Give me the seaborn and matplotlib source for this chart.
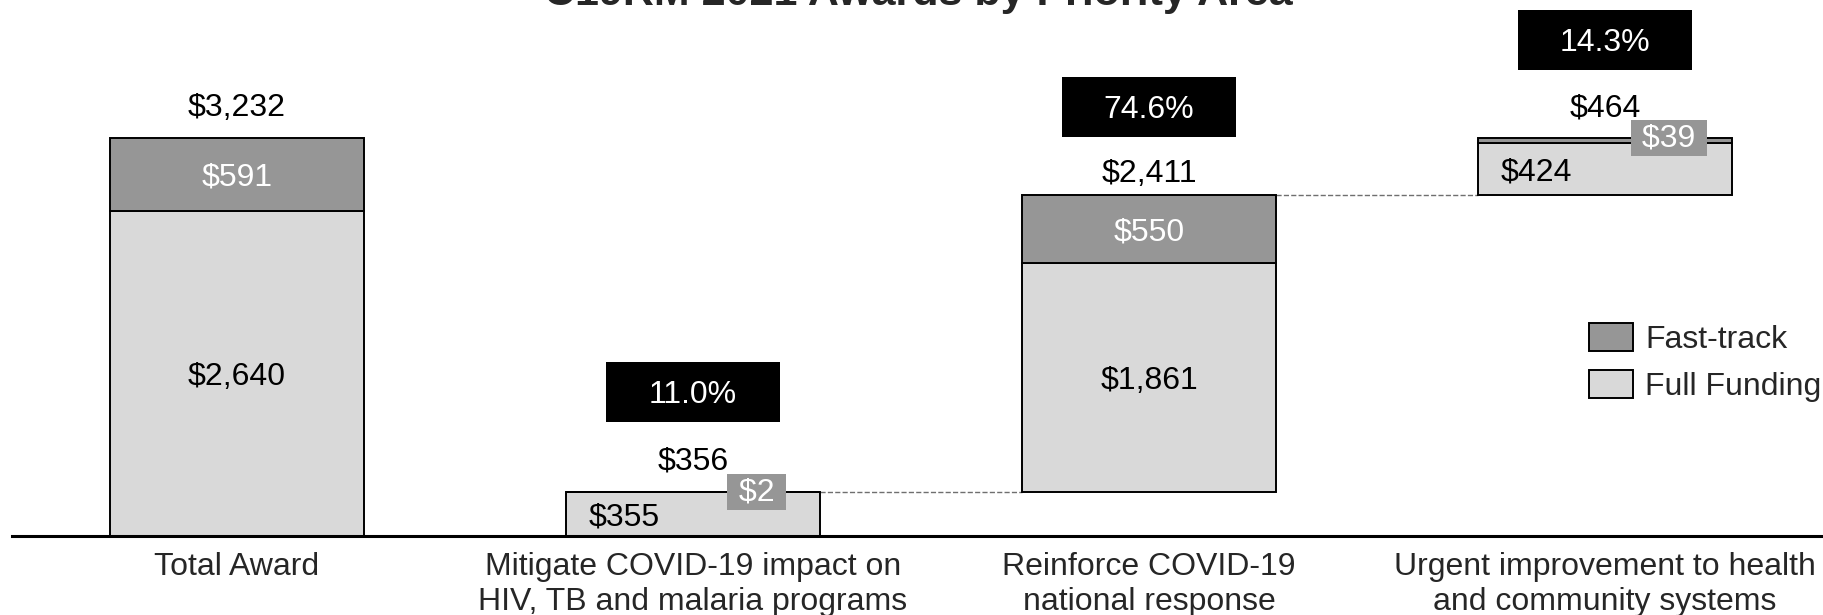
import numpy as np
import pandas as pd
import matplotlib
matplotlib.use("Agg")
import matplotlib.pyplot as plt
import seaborn as sns
from matplotlib.patches import Patch

# ---- data ----
categories = ["Total Award",
              "Mitigate COVID-19 impact on\nHIV, TB and malaria programs",
              "Reinforce COVID-19\nnational response",
              "Urgent improvement to health\nand community systems"]
full_funding = [2640, 355, 1861, 424]
fast_track = [591, 2, 550, 39]
total_labels = ["$3,232", "$356", "$2,411", "$464"]
full_labels = ["$2,640", "$355", "$1,861", "$424"]
fast_labels = ["$591", "$2", "$550", "$39"]
share_labels = [None, "11.0%", "74.6%", "14.3%"]
title = "C19RM 2021 Awards by Priority Area"

# ---- style ----
sns.set_theme(style="white")
plt.rcParams["font.family"] = ["Liberation Sans", "DejaVu Sans"]
FS = 23
CAP = 0.358 * FS  # half cap height in points, to centre digits visually
C_FAST = "#969696"
C_FULL = "#d9d9d9"
W = 0.557
PX = 0.12318  # pixels per data unit (for offsets)

fig = plt.figure(figsize=(18.24, 6.15), dpi=100)
ax = fig.add_axes([12 / 1824, 79 / 615, 1812 / 1824, 536 / 615])

full = np.array(full_funding, float)
fast = np.array(fast_track, float)
tot = full + fast
# waterfall bottoms: total starts at 0, components stack cumulatively
bottoms = np.zeros(4)
bottoms[2:] = np.cumsum(tot[1:3])
x = np.arange(4)

df = pd.DataFrame({"cat": categories, "full": full, "fast": fast, "bottom": bottoms})
sns.barplot(data=df, x="cat", y="full", bottom=df["bottom"], color=C_FULL,
            saturation=1, edgecolor="black", linewidth=1.4, width=W, ax=ax)
sns.barplot(data=df, x="cat", y="fast", bottom=df["bottom"] + df["full"], color=C_FAST,
            saturation=1, edgecolor="black", linewidth=1.4, width=W, ax=ax)

tops = bottoms + tot

# connectors
for i in (1, 2):
    ax.plot([x[i] + W / 2, x[i + 1] - W / 2], [tops[i], tops[i]], ls="--",
            color="#6f6f6f", lw=1.0, zorder=0)


def centred(xv, yv, s, color, dx=0.0, **kw):
    ax.annotate(s, (xv + dx, yv), xytext=(0, -CAP), textcoords="offset points",
                ha="center", va="baseline", fontsize=FS, color=color, **kw)


total_off_px = [22, 23, 13, 22]
box_off_px = [None, 70, 58, 68]
for i in range(4):
    ax.annotate(total_labels[i], (x[i], tops[i]), xytext=(0, total_off_px[i] / 1.389),
                textcoords="offset points", ha="center", va="baseline", fontsize=FS,
                color="black")
    if fast[i] >= 100:
        centred(x[i], bottoms[i] + full[i] + fast[i] / 2, fast_labels[i], "white")
        centred(x[i], bottoms[i] + full[i] / 2, full_labels[i], "black")
    else:
        ax.text(x[i] + 0.14, tops[i], " " + fast_labels[i] + " ", ha="center",
                va="center", fontsize=FS, color="white",
                bbox=dict(boxstyle="square,pad=0.08", fc=C_FAST, ec="none"), zorder=5)
        centred(x[i], bottoms[i] + full[i] / 2, full_labels[i], "black", dx=-0.15)
    if share_labels[i]:
        b = tops[i] + box_off_px[i] / PX
        h = 60 / PX
        ax.bar(x[i], h, bottom=b, width=174 / 456, color="black", linewidth=0)
        centred(x[i], b + h / 2, share_labels[i], "white")

ax.set_xlim(-0.493, 3.48)
ax.set_ylim(0, 536 / PX)
ax.set_xlabel("")
ax.set_ylabel("")
ax.set_yticks([])
ax.tick_params(axis="x", length=0, pad=11.5, labelsize=FS)
for s in ("top", "right", "left"):
    ax.spines[s].set_visible(False)
ax.spines["bottom"].set_color("black")
ax.spines["bottom"].set_linewidth(2.2)

handles = [Patch(facecolor=C_FAST, edgecolor="black", linewidth=1.4, label="Fast-track"),
           Patch(facecolor=C_FULL, edgecolor="black", linewidth=1.4, label="Full Funding")]
fig.legend(handles=handles, loc="upper left", bbox_to_anchor=(1589 / 1824, 1 - 323 / 615),
           frameon=False, fontsize=FS, handlelength=1.38, handleheight=0.97,
           handletextpad=0.38, labelspacing=0.47, borderpad=0, borderaxespad=0)

fig.text((12 + 1824) / 2 / 1824, 1 - 5 / 615, title, ha="center", va="baseline",
         fontsize=31, fontweight="bold")

fig.savefig("out.png", dpi=100)
